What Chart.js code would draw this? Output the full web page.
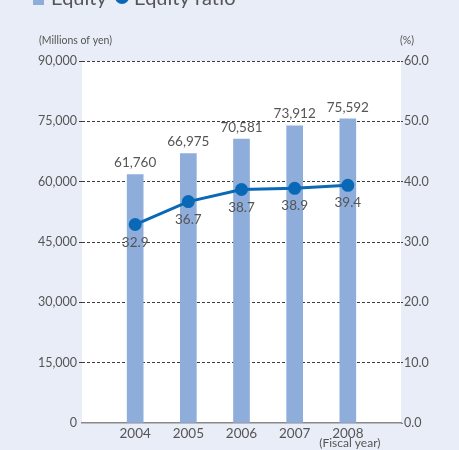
<!DOCTYPE html>
<html>
<head>
<meta charset="utf-8">
<script src="https://cdn.jsdelivr.net/npm/chart.js@4.4.1/dist/chart.umd.min.js"></script>
<style>
  html, body { margin: 0; padding: 0; background: #e9edf7; }
  #wrap { width: 459px; height: 450px; position: relative; }
</style>
</head>
<body>
<div id="wrap"><canvas id="chart" width="459" height="450"></canvas></div>
<script>
var years = ['2004', '2005', '2006', '2007', '2008'];
var equity = [61760, 66975, 70581, 73912, 75592];
var equityRatio = [32.9, 36.7, 38.7, 38.9, 39.4];
var leftTicks = [0, 15000, 30000, 45000, 60000, 75000, 90000];
var rightTicks = [0, 10, 20, 30, 40, 50, 60];

// blank slots at both ends so the years sit inside the plot
var labels = [''].concat(years, ['']);
var barData = [null].concat(equity, [null]);
var lineData = [null].concat(equityRatio, [null]);

var FONT = 'Lato, "Open Sans", sans-serif';
var GREY = '#555';
var BAR = '#8eaddb';
var LINE = '#0a69b6';

/* white plot area, value labels and extra text */
var decor = {
  id: 'decor',
  beforeDraw: function(chart) {
    var a = chart.chartArea, ctx = chart.ctx;
    ctx.save();
    ctx.fillStyle = '#ffffff';
    ctx.fillRect(a.left, a.top, a.right - a.left, a.bottom - a.top);
    ctx.restore();
  },
  afterDraw: function(chart) {
    var ctx = chart.ctx;
    ctx.save();
    ctx.font = '13.5px ' + FONT;
    ctx.fillStyle = GREY;
    ctx.textAlign = 'center';

    ctx.textBaseline = 'bottom';
    chart.getDatasetMeta(1).data.forEach(function(bar, i) {
      if (barData[i] == null) return;
      ctx.fillText(barData[i].toLocaleString('en-US'), bar.x, bar.y - 5);
    });

    ctx.textBaseline = 'top';
    chart.getDatasetMeta(0).data.forEach(function(pt, i) {
      if (lineData[i] == null) return;
      ctx.fillText(lineData[i].toFixed(1), pt.x, pt.y + 11);
    });

    // axis units
    ctx.font = '10.5px ' + FONT;
    ctx.textBaseline = 'middle';
    ctx.textAlign = 'left';
    ctx.fillText('(Millions of yen)', 39, 41);
    ctx.fillText('(%)', 400, 41);
    ctx.font = '12px ' + FONT;
    ctx.textAlign = 'center';
    var last = chart.scales.x.getPixelForValue(years.length);
    ctx.fillText('(Fiscal year)', last + 2, 443);

    // legend, mostly above the top edge
    ctx.font = '20px ' + FONT;
    ctx.textAlign = 'left';
    ctx.textBaseline = 'alphabetic';
    ctx.fillStyle = BAR;
    ctx.fillRect(33, -10, 11, 15);
    ctx.fillStyle = GREY;
    ctx.fillText('Equity', 51, 5);
    ctx.fillStyle = LINE;
    ctx.beginPath();
    ctx.arc(122, -3, 7, 0, Math.PI * 2);
    ctx.fill();
    ctx.fillStyle = GREY;
    ctx.fillText('Equity ratio', 134, 5);
    ctx.restore();
  }
};

new Chart(document.getElementById('chart').getContext('2d'), {
  type: 'bar',
  data: {
    labels: labels,
    datasets: [
      {
        type: 'line',
        label: 'Equity ratio',
        data: lineData,
        yAxisID: 'y1',
        borderColor: LINE,
        backgroundColor: LINE,
        borderWidth: 3,
        pointRadius: 5,
        pointHoverRadius: 5,
        spanGaps: false,
        order: 0
      },
      {
        label: 'Equity',
        data: barData,
        yAxisID: 'y',
        backgroundColor: BAR,
        barThickness: 16,
        order: 1
      }
    ]
  },
  plugins: [decor],
  options: {
    responsive: false,
    animation: false,
    layout: { padding: { top: 61, left: 0, right: 0, bottom: 0 } },
    plugins: { legend: { display: false }, tooltip: { enabled: false } },
    scales: {
      x: {
        offset: false,
        grid: { display: false, drawTicks: false },
        border: { display: true, color: '#8a8a8a', width: 1.5 },
        ticks: { color: GREY, font: { family: FONT, size: 13.5 }, padding: 3, maxRotation: 0, autoSkip: false },
        afterFit: function(s) { s.height = 27; }
      },
      y: {
        position: 'left',
        min: 0, max: 90000,
        afterBuildTicks: function(s) { s.ticks = leftTicks.map(function(v) { return { value: v }; }); },
        grid: {
          color: function(c) { return c.tick && c.tick.value === 0 ? 'rgba(0,0,0,0)' : '#3c3c3c'; },
          lineWidth: 1,
          tickLength: 3
        },
        border: { display: false, dash: [3, 2] },
        ticks: {
          color: GREY, font: { family: FONT, size: 12.5 }, padding: 2,
          callback: function(v) { return v.toLocaleString('en-US'); }
        },
        afterFit: function(s) { s.width = 82; }
      },
      y1: {
        position: 'right',
        min: 0, max: 60,
        afterBuildTicks: function(s) { s.ticks = rightTicks.map(function(v) { return { value: v }; }); },
        grid: {
          drawOnChartArea: false,
          color: function(c) { return c.tick && c.tick.value === 0 ? '#8a8a8a' : '#3c3c3c'; },
          tickLength: 2
        },
        border: { display: false, dash: [3, 2] },
        ticks: {
          color: GREY, font: { family: FONT, size: 12.5 }, padding: 1,
          callback: function(v) { return Number(v).toFixed(1); }
        },
        afterFit: function(s) { s.width = 58; }
      }
    }
  }
});
</script>
</body>
</html>
